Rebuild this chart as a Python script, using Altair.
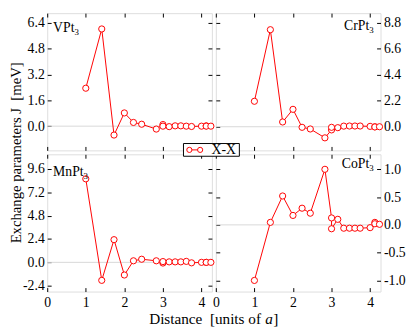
import altair as alt
import pandas as pd

FONT = "Liberation Serif, Times New Roman, Times, serif"

distance = [1.0, 1.414, 1.732, 2.0, 2.236, 2.449, 2.828, 3.0, 3.0, 3.162,
            3.317, 3.464, 3.606, 3.742, 4.0, 4.123, 4.123, 4.243]
j_vpt3 = [2.35, 6.02, -0.55, 0.82, 0.23, 0.12, -0.18, 0.10, 0.0, -0.03,
          0.02, 0.02, 0.0, -0.02, 0.0, 0.02, 0.0, 0.0]
j_crpt3 = [2.15, 8.2, 0.4, 1.47, -0.05, -0.19, -0.94, -0.27, -0.05, -0.08,
           0.05, 0.06, 0.06, 0.06, 0.03, 0.0, -0.02, 0.0]
j_mnpt3 = [8.58, -1.85, 2.33, -1.3, 0.16, 0.32, 0.16, -0.07, 0.08, 0.05,
           0.05, 0.05, 0.1, -0.05, 0.0, 0.0, 0.0, 0.0]
j_copt3 = [-1.0, 0.045, 0.52, 0.17, 0.30, 0.21, 1.0, 0.125, -0.07, 0.10,
           -0.06, -0.06, -0.06, -0.06, -0.05, 0.045, 0.02, 0.01]

x_ticks = [0, 1, 2, 3, 4]
x_domain = [0, 4.27]
W, H = 168, 140
LFS = 14

LABEL_EXPR = "replace(format(datum.value, '.1f'), '\u2212', '-')"


def one():
    return alt.Chart(pd.DataFrame({"k": [0]}))


def len_px(s):
    widths = {"V": 0.722, "P": 0.556, "t": 0.278, "M": 0.889, "n": 0.5}
    return sum(widths.get(c, 0.5) for c in s) * LFS


def panel(vals, ydom, yticks, left_side, bottom_row, name, label_y, extra=None, ytitle=None):
    df = pd.DataFrame({"d": distance, "j": vals, "i": list(range(len(distance)))})
    xs = alt.Scale(domain=x_domain, nice=False, zero=False)
    ys = alt.Scale(domain=ydom, nice=False, zero=False)
    main_y = "left" if left_side else "right"
    mirr_y = "right" if left_side else "left"
    common = dict(offset=-4, tickSize=4, domain=False, grid=False, tickColor="black",
                  labelFont=FONT, labelFontSize=14, labelColor="black",
                  labelFlush=False, labelOverlap=False)
    xa_main = alt.Axis(orient="bottom", values=x_ticks, labels=bottom_row, title=None,
                       labelPadding=4, **common)
    xa_mirr = alt.Axis(orient="top", values=x_ticks, labels=False, title=None, **common)
    if ytitle:
        ya_main = alt.Axis(orient=main_y, values=yticks, labelExpr=LABEL_EXPR, title=ytitle,
                           titleFont=FONT, titleFontSize=15, titleFontWeight="normal",
                           titleColor="black", titleX=-36, titleY=H + 2, titleAngle=270,
                           titleAlign="center", titleBaseline="middle", labelPadding=3,
                           **common)
    else:
        ya_main = alt.Axis(orient=main_y, values=yticks, labelExpr=LABEL_EXPR, title=None,
                           labelPadding=3, **common)
    ya_mirr = alt.Axis(orient=mirr_y, values=yticks, labels=False, title=None, **common)

    zero = alt.Chart(pd.DataFrame({"z": [0]})).mark_rule(color="#d8d8d8", strokeWidth=1).encode(
        y=alt.Y("z:Q", scale=ys, axis=None))
    line = alt.Chart(df).mark_line(color="red", strokeWidth=1).encode(
        x=alt.X("d:Q", scale=xs, axis=xa_main),
        y=alt.Y("j:Q", scale=ys, axis=ya_main),
        order="i:Q")
    pts = alt.Chart(df).mark_point(shape="circle", filled=True, fill="white", stroke="red",
                                   strokeWidth=1, size=40, opacity=1, fillOpacity=1).encode(
        x=alt.X("d:Q", scale=xs, axis=xa_mirr),
        y=alt.Y("j:Q", scale=ys, axis=ya_mirr))

    base_name, sub = name
    if left_side:
        t1 = one().mark_text(align="left", baseline="alphabetic", font=FONT, fontSize=LFS,
                             color="black").encode(x=alt.value(6), y=alt.value(label_y),
                                                   text=alt.value(base_name))
        t2 = one().mark_text(align="left", baseline="alphabetic", font=FONT, fontSize=9,
                             color="black").encode(x=alt.value(6 + len_px(base_name)),
                                                   y=alt.value(label_y + 3), text=alt.value(sub))
    else:
        t1 = one().mark_text(align="right", baseline="alphabetic", font=FONT, fontSize=LFS,
                             color="black").encode(x=alt.value(W - 11.5), y=alt.value(label_y),
                                                   text=alt.value(base_name))
        t2 = one().mark_text(align="right", baseline="alphabetic", font=FONT, fontSize=9,
                             color="black").encode(x=alt.value(W - 7), y=alt.value(label_y + 3),
                                                   text=alt.value(sub))
    layers = [zero, line, pts, t1, t2]
    if extra:
        layers += extra
    return alt.layer(*layers).resolve_axis(x="independent", y="independent").properties(
        width=W, height=H)


# x-axis title (placed under bottom-left panel, centred on the gap)
C = W + 2
FS = 15.5
start = C - 66
TY = H + 33
xt1 = one().mark_text(align="left", baseline="alphabetic", font=FONT, fontSize=FS,
                      color="black").encode(x=alt.value(start), y=alt.value(TY),
                                            text=alt.value("Distance\u00a0 [units of"))
xt2 = one().mark_text(align="left", baseline="alphabetic", font=FONT, fontSize=FS,
                      fontStyle="italic", color="black").encode(
    x=alt.value(start + 118.5), y=alt.value(TY), text=alt.value("a"))
xt3 = one().mark_text(align="left", baseline="alphabetic", font=FONT, fontSize=FS,
                      color="black").encode(x=alt.value(start + 126.5), y=alt.value(TY),
                                            text=alt.value("]"))

# legend (drawn from bottom-right panel so it sits on top of the borders)
lg_box = one().mark_rect(fill="white", stroke="black", strokeWidth=1).encode(
    x=alt.value(-33), x2=alt.value(24), y=alt.value(-11), y2=alt.value(2))
lg_line = one().mark_rule(color="red", strokeWidth=1).encode(
    x=alt.value(-27), x2=alt.value(-16), y=alt.value(-4.5))
lg_p1 = one().mark_point(shape="circle", filled=True, fill="white", stroke="red",
                         strokeWidth=1, size=28, opacity=1).encode(
    x=alt.value(-27), y=alt.value(-4.5))
lg_p2 = one().mark_point(shape="circle", filled=True, fill="white", stroke="red",
                         strokeWidth=1, size=28, opacity=1).encode(
    x=alt.value(-16), y=alt.value(-4.5))
lg_txt = one().mark_text(align="center", baseline="middle", font=FONT, fontSize=14,
                         color="black").encode(x=alt.value(8), y=alt.value(-4),
                                               text=alt.value("X-X"))

p_v = panel(j_vpt3, [-1.5, 7.0], [0.0, 1.6, 3.2, 4.8, 6.4], True, False, ("VPt", "3"), 19,
            ytitle="Exchange parameters J\u00a0 [meV]")
p_cr = panel(j_crpt3, [-2.0, 9.6], [0.0, 2.2, 4.4, 6.6, 8.8], False, False, ("CrPt", "3"), 17)
p_mn = panel(j_mnpt3, [-3.0, 11.1], [-2.4, 0.0, 2.4, 4.8, 7.2, 9.6], True, True, ("MnPt", "3"), 22,
             extra=[xt1, xt2, xt3])
p_co = panel(j_copt3, [-1.2, 1.27], [-1.0, -0.5, 0.0, 0.5, 1.0], False, True, ("CoPt", "3"), 14,
             extra=[lg_box, lg_line, lg_p1, lg_p2, lg_txt])

chart = alt.concat(p_v, p_cr, p_mn, p_co, columns=2, spacing=4, bounds="flush").properties(
    padding={"left": 0, "top": 1, "right": 1, "bottom": 0},
    background="white",
).configure_view(stroke="black", strokeWidth=1).configure_axis(
    labelFont=FONT, titleFont=FONT
).configure_text(font=FONT).configure(font=FONT)

chart.save("out.html", embed_options={"renderer": "svg", "actions": False})
